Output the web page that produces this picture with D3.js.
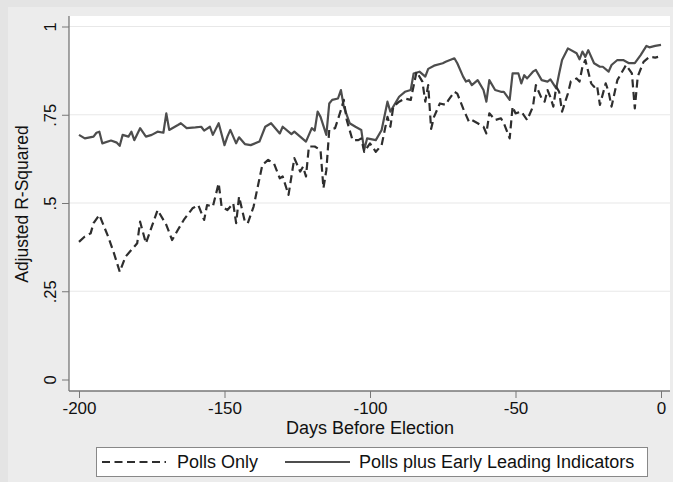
<!DOCTYPE html>
<html><head><meta charset="utf-8">
<script src="https://cdn.jsdelivr.net/npm/d3@7"></script>
<style>html,body{margin:0;padding:0;background:#e6e6e6;}svg{display:block;font-family:"Liberation Sans",Arial,sans-serif;}</style>
</head><body><svg id="c" width="673" height="482"></svg>
<script>
// ---- data ----
const solidDays = [-200,-198,-195,-194,-193,-192,-189,-187,-186,-185,-183,-182,-181,-179,-177,-175,-173,-171,-170,-169,-166,-165,-163,-160,-158,-157,-155,-154,-152,-150,-149,-148,-146,-145,-143,-141,-138,-136,-134,-131,-130,-127,-126,-124,-122,-120,-119,-118,-117,-115,-114,-113,-111,-110,-109,-107,-105,-103,-102,-101,-98,-96,-94,-93,-90,-88,-86,-85,-83,-81,-80,-78,-75,-74,-71,-70,-68,-67,-66,-65,-63,-61,-60,-59,-57,-55,-54,-52,-51,-49,-48,-47,-46,-44,-43,-41,-39,-38,-36,-35,-34,-32,-29,-28,-27,-26,-25,-23,-21,-20,-18,-17,-15,-13,-11,-9,-7,-5,-4,-2,0];
const solidVals = [.693,.683,.688,.699,.702,.669,.677,.671,.662,.693,.688,.702,.678,.712,.688,.693,.702,.699,.754,.707,.721,.726,.712,.714,.716,.705,.716,.693,.726,.664,.688,.707,.669,.686,.667,.664,.674,.716,.726,.697,.716,.695,.702,.688,.674,.712,.705,.759,.744,.693,.782,.792,.796,.820,.773,.726,.716,.707,.650,.683,.678,.707,.787,.759,.801,.815,.820,.867,.872,.858,.880,.889,.896,.900,.910,.896,.858,.844,.848,.834,.848,.820,.787,.848,.820,.815,.815,.792,.867,.867,.839,.862,.853,.872,.877,.848,.844,.850,.825,.867,.905,.938,.924,.907,.929,.914,.933,.896,.886,.886,.872,.891,.905,.905,.896,.896,.919,.945,.941,.945,.948];
const dashDays = [-200,-198,-196,-195,-193,-190,-188,-186,-184,-182,-180,-179,-177,-175,-173,-170,-168,-166,-164,-161,-159,-157,-156,-154,-152,-151,-149,-147,-146,-145,-143,-142,-140,-137,-135,-133,-131,-130,-128,-126,-124,-123,-122,-121,-119,-117,-116,-115,-114,-112,-110,-109,-108,-106,-104,-103,-102,-100,-98,-96,-94,-93,-92,-90,-88,-86,-84,-82,-81,-80,-79,-78,-76,-74,-73,-71,-70,-68,-67,-66,-65,-63,-61,-60,-59,-57,-55,-54,-52,-51,-50,-48,-46,-44,-43,-41,-40,-39,-38,-37,-36,-35,-34,-32,-31,-29,-28,-27,-26,-24,-23,-22,-21,-19,-18,-17,-15,-13,-12,-10,-9,-8,-6,-4,-2,-1];
const dashVals = [.390,.405,.414,.443,.466,.405,.358,.305,.348,.367,.386,.447,.386,.433,.480,.438,.395,.424,.452,.485,.494,.452,.494,.490,.556,.490,.480,.499,.443,.518,.447,.443,.490,.608,.622,.612,.570,.575,.523,.627,.589,.603,.575,.660,.660,.650,.542,.593,.707,.712,.763,.792,.735,.678,.678,.683,.645,.669,.645,.664,.744,.716,.773,.787,.796,.792,.872,.844,.787,.834,.710,.744,.782,.778,.792,.815,.810,.768,.749,.730,.735,.726,.716,.697,.754,.735,.740,.726,.683,.773,.754,.759,.735,.773,.834,.796,.787,.820,.800,.773,.829,.815,.759,.810,.844,.853,.844,.886,.905,.839,.829,.834,.778,.839,.815,.773,.848,.877,.891,.867,.768,.858,.900,.914,.912,.914];
const xTicks = [-200,-150,-100,-50,0];
const yTicks = [0,.25,.5,.75,1];
const yTickLabels = ["0",".25",".5",".75","1"];
const seriesNames = ["Polls Only","Polls plus Early Leading Indicators"];
const xTitle = "Days Before Election";
const yTitle = "Adjusted R-Squared";

const svg = d3.select("#c");
// backgrounds
svg.append("rect").attr("width",673).attr("height",482).attr("fill","#e4e4e4");
svg.append("rect").attr("x",8).attr("y",7).attr("width",665).attr("height",475).attr("fill","#ececec");
const P = {l:69, r:670, t:16, b:391};
svg.append("rect").attr("x",P.l).attr("y",P.t).attr("width",P.r-P.l).attr("height",P.b-P.t).attr("fill","#fff");

const x = d3.scaleLinear().domain([-200,0]).range([79,661]);
const y = d3.scaleLinear().domain([0,1]).range([379.5,26.5]);

// gridlines
svg.append("g").selectAll("line").data(yTicks.filter(d=>d>0)).join("line")
  .attr("x1",P.l).attr("x2",P.r).attr("y1",d=>y(d)).attr("y2",d=>y(d))
  .attr("stroke","#e8e8e8").attr("stroke-width",1.2);

// axes
const yAxis = d3.axisLeft(y).tickValues(yTicks).tickFormat((d,i)=>yTickLabels[i]).tickSize(7).tickSizeOuter(0);
const gy = svg.append("g").attr("transform",`translate(${P.l},0)`).call(yAxis);
gy.select(".domain").remove();
gy.selectAll(".tick line").attr("stroke","#777");
gy.selectAll(".tick text").attr("font-size",16.5).attr("fill","#111")
  .attr("text-anchor","middle")
  .attr("transform","translate(-13,0) rotate(-90)").attr("x",0).attr("y",0).attr("dy","0");

const xAxis = d3.axisBottom(x).tickValues(xTicks).tickFormat(d3.format("d")).tickSize(7).tickSizeOuter(0);
const gx = svg.append("g").attr("transform",`translate(0,${P.b})`).call(xAxis);
gx.select(".domain").remove();
gx.selectAll(".tick line").attr("stroke","#777");
gx.selectAll(".tick text").attr("font-size",17).attr("fill","#111").attr("y",11).attr("dy","0.71em")
  .text(d=>d<0?"-"+Math.abs(d):String(d));

svg.append("line").attr("x1",P.l).attr("x2",P.l).attr("y1",P.t).attr("y2",P.b).attr("stroke","#777").attr("stroke-width",1.3);
svg.append("line").attr("x1",P.l).attr("x2",P.r).attr("y1",P.b).attr("y2",P.b).attr("stroke","#777").attr("stroke-width",1.3);

// titles
svg.append("text").attr("x",370).attr("y",434).attr("text-anchor","middle").attr("font-size",18).attr("fill","#111").text(xTitle);
svg.append("text").attr("transform",`translate(28,204) rotate(-90)`).attr("text-anchor","middle").attr("font-size",17.5).attr("fill","#111").text(yTitle);

// lines
const line = d3.line().x(d=>x(d[0])).y(d=>y(d[1]));
const dashData = dashDays.map((d,i)=>[d,dashVals[i]]);
const solidData = solidDays.map((d,i)=>[d,solidVals[i]]);
svg.append("path").datum(solidData).attr("d",line).attr("fill","none").attr("stroke","#4d4d4d").attr("stroke-width",2.2).attr("stroke-linejoin","round");
svg.append("path").datum(dashData).attr("d",line).attr("fill","none").attr("stroke","#2e2e2e").attr("stroke-width",2.2).attr("stroke-dasharray","8,4.5").attr("stroke-linejoin","round");

// legend
const lg = svg.append("g");
lg.append("rect").attr("x",96.5).attr("y",447.5).attr("width",551).attr("height",29).attr("fill","#fff").attr("stroke","#888");
lg.append("line").attr("x1",102).attr("x2",166).attr("y1",462).attr("y2",462).attr("stroke","#2e2e2e").attr("stroke-width",2).attr("stroke-dasharray","8,4.5");
lg.append("text").attr("x",177).attr("y",468).attr("font-size",18).attr("fill","#111").text(seriesNames[0]);
lg.append("line").attr("x1",285).attr("x2",350).attr("y1",462).attr("y2",462).attr("stroke","#4d4d4d").attr("stroke-width",2);
lg.append("text").attr("x",359).attr("y",468).attr("font-size",18).attr("fill","#111").text(seriesNames[1]);
</script></body></html>
